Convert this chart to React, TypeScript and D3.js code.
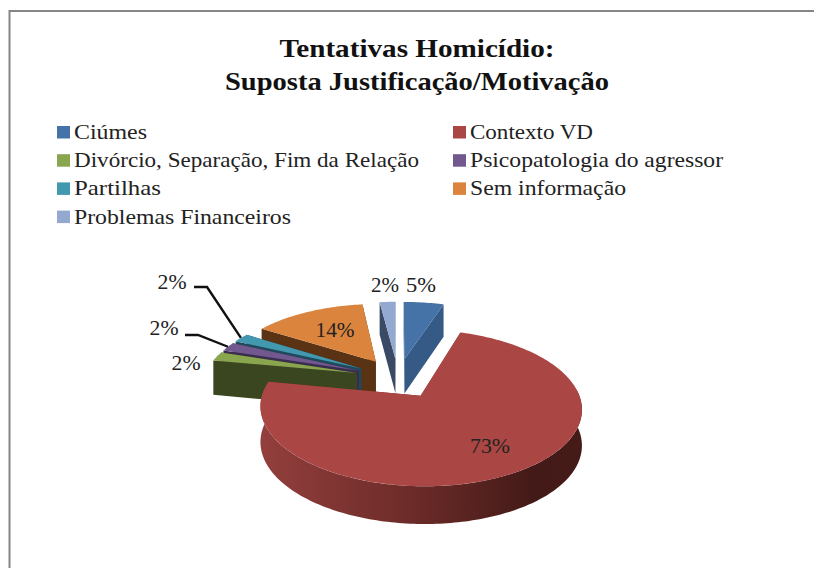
import React from "react";
import * as d3 from "d3";

const categories = ["Ciúmes", "Contexto VD", "Divórcio, Separação, Fim da Relação", "Psicopatologia do agressor", "Partilhas", "Sem informação", "Problemas Financeiros"];
const values = [5, 73, 2, 2, 2, 14, 2];
const topColors = ["#4572a7", "#aa4643", "#89a54e", "#71588f", "#4198af", "#db843d", "#93a9cf"];
const sideColors = ["#355a85", "#7a3230", "#3a4620", "#3b2d50", "#1f4a5c", "#5a3315", "#3a4a64"];
const titleLines = ["Tentativas Homicídio:", "Suposta Justificação/Motivação"];
const titleWidths = [275, 384];
const legendWidths = [73, 123, 345, 253, 87, 156, 217];
const labelOffsets: [number, number][] = [[421, 292], [490, 453], [186, 370], [164, 335], [172, 289], [335, 337], [385, 292]];
const labelWidths = [30, 40, 29, 29, 29, 39, 28];
const leaderElbows: ([number, number][] | null)[] = [null, null, null, [[185, 335], [198, 335]], [[194, 287], [207, 287]], null, null];

const W = 814, H = 568;
const xc = 398, y0 = 378, B = 153, A = 71, K = 0.15, EXPLODE = 0.28;
const project = (u: number, v: number): [number, number] => [xc + (B * u) / (1 - K * v), y0 + (A * v) / (1 - K * v)];
const depth = (v: number) => 35 + 2.2 * v;

const line = d3.line<[number, number]>();
const pie = d3.pie<number>().sort(null)(values);
const total = d3.sum(values);

type G = [number, number];
function geo(d: d3.PieArcDatum<number>) {
  const mid = (d.startAngle + d.endAngle) / 2;
  const ox = EXPLODE * Math.sin(mid), oy = -EXPLODE * Math.cos(mid);
  const ground = (t: number, r: number): G => [ox + r * Math.sin(t), oy - r * Math.cos(t)];
  const top = (t: number, r = 1): G => { const [u, v] = ground(t, r); return project(u, v); };
  const bot = (t: number, r = 1): G => { const [u, v] = ground(t, r); const p = project(u, v); return [p[0], p[1] + depth(v)]; };
  const sweep = (a: number, b: number) => { const n = Math.max(2, Math.ceil((b - a) / 0.02)); return d3.range(n + 1).map((i) => a + ((b - a) * i) / n); };
  const apex = top(0, 0);
  const rim = sweep(d.startAngle, d.endAngle).map((t) => top(t));
  const radial = (t: number) => [top(0, 0), top(t), bot(t), bot(0, 0)] as G[];
  const walls = [d.startAngle, d.endAngle].map((t) => ({ y: top(t)[1], pts: radial(t) })).sort((a, b) => a.y - b.y);
  const wa = Math.max(d.startAngle, (85 * Math.PI) / 180), wb = Math.min(d.endAngle, (275 * Math.PI) / 180);
  const outer = wb > wa ? [...sweep(wa, wb).map((t) => top(t)), ...sweep(wa, wb).reverse().map((t) => bot(t))] : null;
  return { apex, rim, walls, outer, face: [apex, ...rim] as G[], midTop: top(mid) };
}

const slices = pie.map((d, i) => ({ i, ...geo(d) })).sort((a, b) => a.apex[1] - b.apex[1]);

export default function App() {
  const serif = "'Liberation Serif', serif";
  const rows = d3.range(categories.length);
  return (
    <svg width={W} height={H} style={{ position: "absolute", left: 0, top: 0, background: "#fff" }}>
      <defs>
        <linearGradient id="redWall">
          <stop offset="0" stopColor="#933f3d" />
          <stop offset="0.5" stopColor="#692a27" />
          <stop offset="0.85" stopColor="#431a17" />
          <stop offset="1" stopColor="#451b18" />
        </linearGradient>
      </defs>
      <path d={`M9.5 ${H}V11H${W}`} fill="none" stroke="#868686" strokeWidth={2} />
      {titleLines.map((t, i) => (
        <text key={t} x={417} y={57 + i * 32.5} textAnchor="middle" fontFamily={serif} fontWeight={700} fontSize={26} fill="#111" textLength={titleWidths[i]} lengthAdjust="spacingAndGlyphs">{t}</text>
      ))}
      {rows.map((i) => {
        const col = i % 2, row = Math.floor(i / 2);
        const x = col ? 453 : 57, y = 126 + row * 28.2;
        return (
          <g key={categories[i]}>
            <rect x={x} y={y} width={13} height={12.5} fill={topColors[i]} />
            <text x={x + 17} y={y + 13} fontFamily={serif} fontSize={21} fill="#222" textLength={legendWidths[i]} lengthAdjust="spacingAndGlyphs">{categories[i]}</text>
          </g>
        );
      })}
      {slices.map((s) => (
        <g key={s.i}>
          {s.walls.map((w, j) => <path key={j} d={line(w.pts) + "Z"} fill={sideColors[s.i]} />)}
          {s.outer && <path d={line(s.outer) + "Z"} fill={s.i === 1 ? "url(#redWall)" : sideColors[s.i]} />}
          <path d={line(s.face) + "Z"} fill={topColors[s.i]} />
        </g>
      ))}
      {slices.map((s) => leaderElbows[s.i] && (
        <path key={s.i} d={line([...(leaderElbows[s.i] as G[]), s.midTop]) as string} fill="none" stroke="#111" strokeWidth={2.4} />
      ))}
      {rows.map((i) => (
        <text key={i} x={labelOffsets[i][0]} y={labelOffsets[i][1]} textAnchor="middle" fontFamily={serif} fontSize={21} fill="#222" textLength={labelWidths[i]} lengthAdjust="spacingAndGlyphs">{`${Math.round((values[i] / total) * 100)}%`}</text>
      ))}
    </svg>
  );
}
